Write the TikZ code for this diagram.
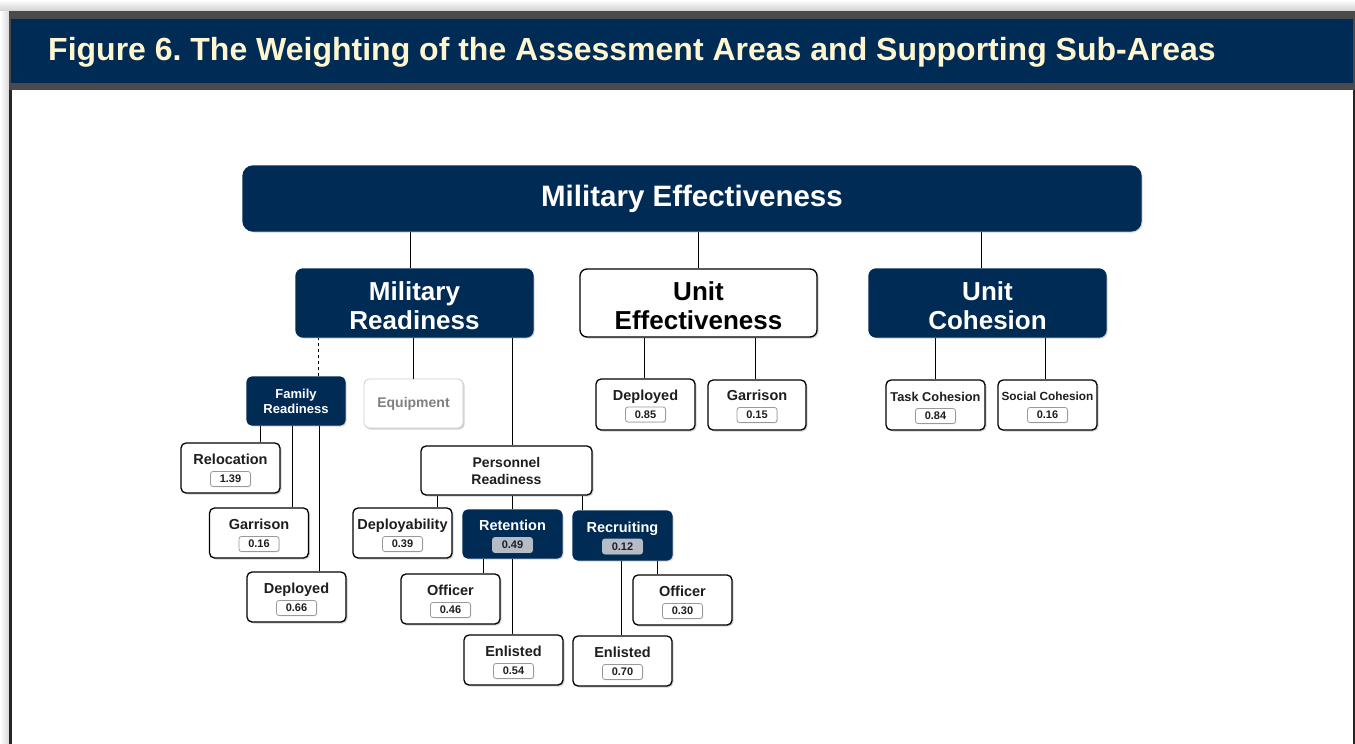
\documentclass[tikz,border=0pt]{standalone}
\usepackage{fontspec}
\setmainfont{Liberation Sans}
\usetikzlibrary{shadows}
\definecolor{navy}{RGB}{0,43,85}
\definecolor{cream}{RGB}{255,246,208}
\definecolor{bargray}{RGB}{74,74,76}
\definecolor{wtgray}{RGB}{180,188,200}
\definecolor{ink}{RGB}{30,30,30}
\frenchspacing
\tikzset{
  box/.style={rectangle, rounded corners=5pt, draw=black, line width=1.3pt, fill=white,
    drop shadow={opacity=0.35, shadow xshift=1.5pt, shadow yshift=-1.5pt}},
  navybox/.style={fill=navy, draw=navy, text=white},
  area/.style={box, rounded corners=7pt, minimum width=237pt, minimum height=68pt,
    inner sep=0pt, align=center, text height=53pt, font=\fontsize{26}{29}\selectfont\bfseries},
  leaf/.style={box, minimum width=99pt, minimum height=50pt},
  lbl/.style={anchor=base, inner sep=0pt, text=ink, font=\fontsize{14.5}{17}\selectfont\bfseries},
  wt/.style={rectangle, rounded corners=2.5pt, draw=black!40, line width=0.8pt, fill=white,
    minimum width=40pt, minimum height=15pt, inner sep=0pt, text=ink,
    font=\fontsize{11}{12}\selectfont\bfseries,
    drop shadow={opacity=0.2, shadow xshift=0.8pt, shadow yshift=-0.8pt}},
  wtdark/.style={wt, fill=wtgray, draw=wtgray},
  link/.style={draw=black, line width=0.8pt},
}
\begin{document}
\begin{tikzpicture}[x=1pt, y=-1pt]
\useasboundingbox (0,0) rectangle (1355,744);
% frame and title band
\shade[top color=white, bottom color=black!18] (0,0) rectangle (1355,11);
\shade[left color=white, right color=black!15] (0,11) rectangle (9,744);
\fill[bargray] (9,11) rectangle (1355,90);
\fill[navy] (11,19) rectangle (1353,83);
\draw[line width=2.5pt, black!85] (10.5,90) -- (10.5,744);
\draw[line width=2.5pt, black!85] (1353.8,90) -- (1353.8,744);
\node[anchor=west, inner sep=0pt, text=cream, font=\fontsize{32}{36}\selectfont\bfseries] (title) at (48,52)
  {Figure 6. The Weighting of the Assessment Areas and Supporting Sub-Areas};
% top level
\node[box, navybox, rounded corners=10pt, minimum width=898pt, minimum height=65pt,
  font=\fontsize{29.5}{33}\selectfont\bfseries] (me) at (692,198.5) {Military Effectiveness};
\node[area, navybox] (mr) at (414.5,303) {Military\\Readiness};
\node[area] (ue) at (698.5,303) {Unit\\Effectiveness};
\node[area, navybox] (uc) at (987.5,303) {Unit\\Cohesion};
\draw[link] ([xshift=-4pt]mr.north) -- ([xshift=-4pt]mr.north |- me.south);
\draw[link] (ue.north) -- (ue.north |- me.south);
\draw[link] ([xshift=-6pt]uc.north) -- ([xshift=-6pt]uc.north |- me.south);
% military readiness
\node[box, navybox, minimum width=98pt, minimum height=48pt, inner sep=0pt, align=center,
  font=\fontsize{13}{15}\selectfont\bfseries] (fr) at (296,401) {Family\\Readiness};
\node[box, draw=black!20, line width=0.8pt, minimum width=99pt, minimum height=49pt, text=black!50,
  font=\fontsize{14}{17}\selectfont\bfseries] (eq) at (413.5,403.5) {Equipment};
\node[box, minimum width=171pt, minimum height=49pt, inner sep=0pt, align=center, text=ink,
  font=\fontsize{14}{17}\selectfont\bfseries] (pr) at (506.5,470.5) {Personnel\\Readiness};
\draw[link, dashed] ([xshift=22pt]fr.north) -- ([xshift=22pt]fr.north |- mr.south);
\draw[link] (eq.north) -- (eq.north |- mr.south);
\draw[link] ([xshift=5.5pt]pr.north) -- ([xshift=5.5pt]pr.north |- mr.south);
% family readiness
\node[leaf] (reloc) at (230.5,468) {};
\node[lbl] (relocL) at ([yshift=3.5pt]reloc.center) {Relocation};
\node[wt] (relocW) at ([yshift=-11pt]reloc.center) {1.39};
\node[leaf] (frgar) at (259,533) {};
\node[lbl] (frgarL) at ([yshift=3.5pt]frgar.center) {Garrison};
\node[wt] (frgarW) at ([yshift=-11pt]frgar.center) {0.16};
\node[leaf] (frdep) at (296.5,597) {};
\node[lbl] (frdepL) at ([yshift=3.5pt]frdep.center) {Deployed};
\node[wt] (frdepW) at ([yshift=-11pt]frdep.center) {0.66};
\draw[link] ([xshift=-36pt]fr.south) -- ([xshift=-36pt]fr.south |- reloc.north);
\draw[link] ([xshift=-4pt]fr.south) -- ([xshift=-4pt]fr.south |- frgar.north);
\draw[link] ([xshift=23pt]fr.south) -- ([xshift=23pt]fr.south |- frdep.north);
% personnel readiness
\node[leaf] (depl) at (402.5,533) {};
\node[lbl] (deplL) at ([yshift=3.5pt]depl.center) {Deployability};
\node[wt] (deplW) at ([yshift=-11pt]depl.center) {0.39};
\node[leaf, navybox, minimum height=48pt] (ret) at (512.5,534) {};
\node[lbl, text=white] (retL) at ([yshift=3.5pt]ret.center) {Retention};
\node[wtdark] (retW) at ([yshift=-11pt]ret.center) {0.49};
\node[leaf, navybox, minimum height=49pt] (rec) at (622.5,535.5) {};
\node[lbl, text=white] (recL) at ([yshift=3.5pt]rec.center) {Recruiting};
\node[wtdark] (recW) at ([yshift=-11pt]rec.center) {0.12};
\draw[link] ([xshift=-69.5pt]pr.south) -- ([xshift=-69.5pt]pr.south |- depl.north);
\draw[link] ([xshift=5.5pt]pr.south) -- ([xshift=5.5pt]pr.south |- ret.north);
\draw[link] ([xshift=75.5pt]pr.south) -- ([xshift=75.5pt]pr.south |- rec.north);
% retention
\node[leaf] (retoff) at (450.5,599) {};
\node[lbl] (retoffL) at ([yshift=3.5pt]retoff.center) {Officer};
\node[wt] (retoffW) at ([yshift=-11pt]retoff.center) {0.46};
\node[leaf] (retenl) at (513.5,660) {};
\node[lbl] (retenlL) at ([yshift=3.5pt]retenl.center) {Enlisted};
\node[wt] (retenlW) at ([yshift=-11pt]retenl.center) {0.54};
\draw[link] ([xshift=-29.5pt]ret.south) -- ([xshift=-29.5pt]ret.south |- retoff.north);
\draw[link] (ret.south) -- (ret.south |- retenl.north);
% recruiting
\node[leaf] (recoff) at (682.5,600) {};
\node[lbl] (recoffL) at ([yshift=3.5pt]recoff.center) {Officer};
\node[wt] (recoffW) at ([yshift=-11pt]recoff.center) {0.30};
\node[leaf] (recenl) at (622.5,661) {};
\node[lbl] (recenlL) at ([yshift=3.5pt]recenl.center) {Enlisted};
\node[wt] (recenlW) at ([yshift=-11pt]recenl.center) {0.70};
\draw[link] ([xshift=34.5pt]rec.south) -- ([xshift=34.5pt]rec.south |- recoff.north);
\draw[link] ([xshift=-1.5pt]rec.south) -- ([xshift=-1.5pt]rec.south |- recenl.north);
% unit effectiveness
\node[leaf, minimum height=51pt] (uedep) at (645.5,404.5) {};
\node[lbl] (uedepL) at ([yshift=4.5pt]uedep.center) {Deployed};
\node[wt] (uedepW) at ([yshift=-10pt]uedep.center) {0.85};
\node[leaf, minimum width=98pt] (uegar) at (757,405) {};
\node[lbl] (uegarL) at ([yshift=4.5pt]uegar.center) {Garrison};
\node[wt] (uegarW) at ([yshift=-10pt]uegar.center) {0.15};
\draw[link] ([xshift=-1.5pt]uedep.north) -- ([xshift=-1.5pt]uedep.north |- ue.south);
\draw[link] ([xshift=-2pt]uegar.north) -- ([xshift=-2pt]uegar.north |- ue.south);
% unit cohesion
\node[leaf] (task) at (935.5,405) {};
\node[lbl, font=\fontsize{12.8}{15}\selectfont\bfseries] (taskL) at ([yshift=4pt]task.center) {Task Cohesion};
\node[wt] (taskW) at ([yshift=-11pt]task.center) {0.84};
\node[leaf] (social) at (1047.5,405) {};
\node[lbl, font=\fontsize{11.8}{14}\selectfont\bfseries] (socialL) at ([yshift=5pt]social.center) {Social Cohesion};
\node[wt] (socialW) at ([yshift=-10pt]social.center) {0.16};
\draw[link] (task.north) -- (task.north |- uc.south);
\draw[link] ([xshift=-2.5pt]social.north) -- ([xshift=-2.5pt]social.north |- uc.south);
\end{tikzpicture}
\end{document}
